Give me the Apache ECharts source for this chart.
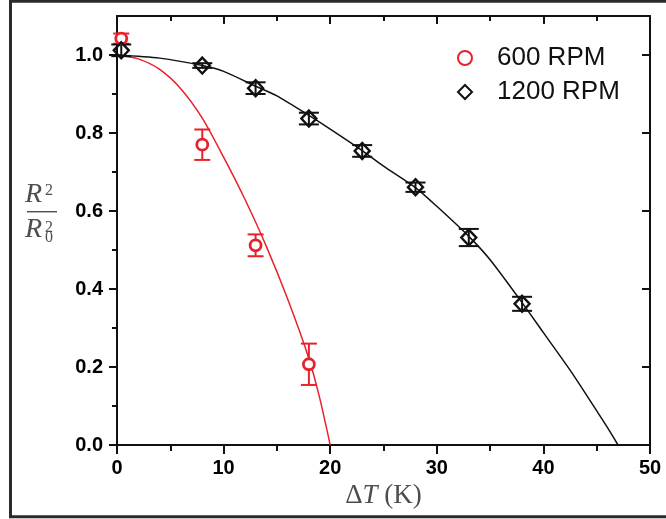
<!DOCTYPE html>
<html>
<head>
<meta charset="utf-8">
<script src="https://cdn.jsdelivr.net/npm/echarts@6/dist/echarts.min.js"></script>
<style>
  html, body { margin: 0; padding: 0; background: #fff; }
  #main { width: 666px; height: 519px; }
</style>
</head>
<body>
<div id="main"></div>
<script>
// measured points (x = ΔT in K, y = R^2/R0^2) with error half-widths
const x600 = [0.4, 8, 13, 18];
const y600 = [1.042, 0.77, 0.512, 0.207];
const err600 = [0.013, 0.039, 0.028, 0.053];

const x1200 = [0.4, 8, 13, 18, 23, 28, 33, 38];
const y1200 = [1.012, 0.973, 0.915, 0.837, 0.754, 0.661, 0.532, 0.362];
const err1200 = [0.015, 0.006, 0.015, 0.015, 0.015, 0.012, 0.022, 0.018];

// fit curves
const fitX600 = [0, 2, 4, 6, 8, 10, 12, 14, 16, 18, 19, 20];
const fitY600 = [1.0, 0.99, 0.963, 0.913, 0.838, 0.738, 0.63, 0.51, 0.375, 0.222, 0.122, 0.0];
const fitX1200 = [0, 4, 8, 10, 13, 15, 18, 20, 23, 25, 28, 30, 33, 35, 38, 40, 42.5, 44, 46, 47];
const fitY1200 = [1.0, 0.992, 0.973, 0.958, 0.92, 0.895, 0.845, 0.81, 0.755, 0.715, 0.66, 0.612, 0.535, 0.475, 0.365, 0.288, 0.192, 0.13, 0.045, 0.0];

const yTicks = [0, 0.2, 0.4, 0.6, 0.8, 1.0];
const yMinorTicks = [0.1, 0.3, 0.5, 0.7, 0.9];

const RED = '#e8222a';
const BLACK = '#111';

const zip = (xs, ys) => xs.map((x, i) => [x, ys[i]]);
const withErr = (xs, ys, es) => xs.map((x, i) => [x, ys[i], es[i]]);

function errorBars(color, half) {
  return function (params, api) {
    const x = api.value(0), y = api.value(1), e = api.value(2);
    const lo = api.coord([x, y - e]);
    const hi = api.coord([x, y + e]);
    const style = { stroke: color, lineWidth: 2 };
    return {
      type: 'group',
      children: [
        { type: 'line', shape: { x1: lo[0], y1: lo[1], x2: hi[0], y2: hi[1] }, style },
        { type: 'line', shape: { x1: lo[0] - half, y1: lo[1], x2: lo[0] + half, y2: lo[1] }, style },
        { type: 'line', shape: { x1: hi[0] - half, y1: hi[1], x2: hi[0] + half, y2: hi[1] }, style }
      ]
    };
  };
}

const myChart = echarts.init(document.getElementById('main'));

const labelFont = { color: '#000', fontFamily: 'Liberation Sans, Arial, sans-serif', fontWeight: 'bold', fontSize: 20 };
const serif = 'Liberation Serif, Times New Roman, serif';
const titleGray = '#4d4d4d';

const option = {
  animation: false,
  backgroundColor: '#fff',
  grid: { left: 117, right: 16, top: 16, bottom: 74, containLabel: false },
  legend: {
    data: ['600 RPM', '1200 RPM'],
    orient: 'vertical',
    left: 452,
    top: 40,
    itemWidth: 14,
    itemHeight: 14,
    itemGap: 8,
    textStyle: { fontFamily: 'Liberation Sans, Arial, sans-serif', fontSize: 26, color: '#111', padding: [0, 0, 0, 20] }
  },
  xAxis: [
    {
      type: 'value', position: 'bottom', min: 0, max: 50, interval: 10,
      axisLine: { show: true, onZero: false, lineStyle: { color: BLACK, width: 2 } },
      axisTick: { show: true, inside: false, length: 9, lineStyle: { color: BLACK, width: 2 } },
      minorTick: { show: true, splitNumber: 2, length: 6, lineStyle: { color: BLACK, width: 2 } },
      splitLine: { show: false },
      axisLabel: Object.assign({ margin: 13 }, labelFont),
      name: '{a|Δ}{b|T}{a| (K)}',
      nameLocation: 'middle',
      nameGap: 33,
      nameTextStyle: {
        rich: {
          a: { fontFamily: serif, fontSize: 27, color: titleGray },
          b: { fontFamily: serif, fontSize: 27, color: titleGray, fontStyle: 'italic' }
        }
      }
    },
    {
      type: 'value', position: 'top', min: 0, max: 50, interval: 10,
      axisLine: { show: true, onZero: false, lineStyle: { color: BLACK, width: 2 } },
      axisTick: { show: true, inside: true, length: 8, lineStyle: { color: BLACK, width: 2 } },
      minorTick: { show: true, splitNumber: 2, length: 5, lineStyle: { color: BLACK, width: 2 } },
      splitLine: { show: false },
      axisLabel: { show: false }
    }
  ],
  yAxis: [
    {
      type: 'value', position: 'left', min: 0, max: 1.1,
      axisLine: { show: true, onZero: false, lineStyle: { color: BLACK, width: 2 } },
      axisTick: { show: true, inside: false, length: 8, customValues: yTicks, lineStyle: { color: BLACK, width: 2 } },
      splitLine: { show: false },
      axisLabel: Object.assign({ margin: 14, customValues: yTicks, formatter: v => v.toFixed(1) }, labelFont)
    },
    {
      type: 'value', position: 'left', min: 0, max: 1.1,
      axisLine: { show: false },
      axisTick: { show: true, inside: false, length: 5, customValues: yMinorTicks, lineStyle: { color: BLACK, width: 2 } },
      splitLine: { show: false },
      axisLabel: { show: false }
    },
    {
      type: 'value', position: 'right', min: 0, max: 1.1,
      axisLine: { show: true, onZero: false, lineStyle: { color: BLACK, width: 2 } },
      axisTick: { show: true, inside: true, length: 8, customValues: yTicks, lineStyle: { color: BLACK, width: 2 } },
      splitLine: { show: false },
      axisLabel: { show: false }
    },
    {
      type: 'value', position: 'right', min: 0, max: 1.1,
      axisLine: { show: false },
      axisTick: { show: true, inside: true, length: 5, customValues: yMinorTicks, lineStyle: { color: BLACK, width: 2 } },
      splitLine: { show: false },
      axisLabel: { show: false }
    }
  ],
  series: [
    {
      name: 'fit600', type: 'line', data: zip(fitX600, fitY600), smooth: 0.25, showSymbol: false,
      lineStyle: { color: RED, width: 1.5 }, z: 2, silent: true
    },
    {
      name: 'fit1200', type: 'line', data: zip(fitX1200, fitY1200), smooth: 0.25, showSymbol: false,
      lineStyle: { color: BLACK, width: 1.5 }, z: 2, silent: true
    },
    {
      name: 'err600', type: 'custom', data: withErr(x600, y600, err600),
      renderItem: errorBars(RED, 8), z: 3, encode: { x: 0, y: 1 }
    },
    {
      name: 'err1200', type: 'custom', data: withErr(x1200, y1200, err1200),
      renderItem: errorBars(BLACK, 10), z: 3, encode: { x: 0, y: 1 }
    },
    {
      name: '600 RPM', type: 'scatter', data: zip(x600, y600),
      symbol: 'circle', symbolSize: 11,
      itemStyle: { color: '#fff', borderColor: RED, borderWidth: 2.8, opacity: 1 }, z: 4
    },
    {
      name: '1200 RPM', type: 'scatter', data: zip(x1200, y1200),
      symbol: 'diamond', symbolSize: [15, 16],
      itemStyle: { color: 'rgba(255,255,255,0)', borderColor: BLACK, borderWidth: 2.4, opacity: 1 }, z: 4
    }
  ],
  graphic: [
    {
      type: 'rect', shape: { x: 10.5, y: 1.2, width: 680, height: 515.5 },
      style: { fill: 'none', stroke: '#2b2b2b', lineWidth: 3 }, silent: true
    },
    { type: 'text', left: 25, top: 181, style: { text: 'R', font: 'italic 28px ' + serif, fill: titleGray } },
    { type: 'text', left: 45, top: 183, style: { text: '2', font: '16px ' + serif, fill: titleGray } },
    { type: 'rect', shape: { x: 27, y: 211, width: 30, height: 1.4 }, style: { fill: titleGray } },
    { type: 'text', left: 25, top: 216, style: { text: 'R', font: 'italic 28px ' + serif, fill: titleGray } },
    { type: 'text', left: 45, top: 220, style: { text: '2', font: '16px ' + serif, fill: titleGray } },
    { type: 'text', left: 45, top: 230, style: { text: '0', font: '16px ' + serif, fill: titleGray } }
  ]
};

myChart.setOption(option);
</script>
</body>
</html>
